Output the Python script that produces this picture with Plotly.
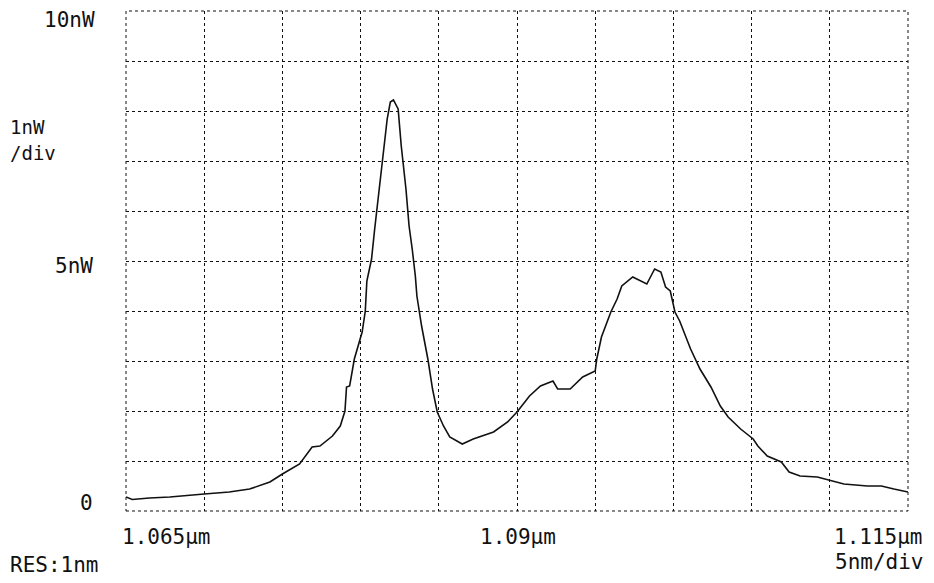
import plotly.graph_objects as go

# Wavelength (nm) and optical power (nW)
wavelength_nm = [
    1065.0, 1065.4, 1066.5, 1067.8, 1070.0, 1071.6, 1072.9, 1074.2, 1075.0, 1076.1,
    1076.9, 1077.4, 1078.2, 1078.7, 1079.0, 1079.1, 1079.3, 1079.6, 1080.1, 1080.3,
    1080.4, 1080.7, 1080.9, 1081.2, 1081.4, 1081.7, 1081.9, 1082.1, 1082.4, 1082.6,
    1082.9, 1083.1, 1083.3, 1083.5, 1083.6, 1083.9, 1084.3, 1084.6, 1084.9, 1085.3,
    1085.7, 1086.5, 1087.2, 1088.5, 1089.4, 1090.0, 1090.8, 1091.5, 1092.3, 1092.6,
    1093.4, 1094.2, 1095.0, 1095.1, 1095.4, 1096.0, 1096.4, 1096.7, 1097.4, 1098.3,
    1098.8, 1099.2, 1099.5, 1099.8, 1100.1, 1100.4, 1101.1, 1101.7, 1102.4, 1103.0,
    1103.5, 1104.3, 1105.1, 1105.4, 1106.0, 1106.9, 1107.4, 1108.1, 1109.2, 1110.2,
    1110.9, 1112.4, 1113.3, 1114.1, 1115.0,
]
power_nw = [
    0.28, 0.23, 0.26, 0.28, 0.34, 0.38, 0.44, 0.58, 0.74, 0.94,
    1.28, 1.30, 1.50, 1.70, 2.00, 2.48, 2.50, 3.04, 3.58, 4.00,
    4.60, 5.04, 5.64, 6.44, 6.98, 7.84, 8.18, 8.22, 8.04, 7.30,
    6.44, 5.70, 5.24, 4.70, 4.30, 3.70, 3.04, 2.44, 1.98, 1.70,
    1.48, 1.34, 1.44, 1.58, 1.78, 1.98, 2.30, 2.50, 2.60, 2.44,
    2.44, 2.68, 2.80, 3.04, 3.48, 3.98, 4.24, 4.50, 4.68, 4.54,
    4.84, 4.78, 4.48, 4.40, 3.98, 3.80, 3.24, 2.84, 2.48, 2.10,
    1.88, 1.64, 1.44, 1.30, 1.10, 0.98, 0.78, 0.70, 0.68, 0.60,
    0.54, 0.50, 0.50, 0.44, 0.38,
]

x_range = [1065, 1115]
y_range = [0, 10]

FONT = "DejaVu Sans Mono"
INK = "#111111"

fig = go.Figure()
fig.add_trace(go.Scatter(
    x=wavelength_nm, y=power_nw, mode="lines",
    line=dict(color=INK, width=1.6),
    showlegend=False, hoverinfo="skip",
))

axis_common = dict(
    showgrid=True, gridcolor=INK, griddash="dot", gridwidth=1,
    showticklabels=False, ticks="", zeroline=False, showline=False,
)
fig.update_xaxes(range=x_range, tick0=1065, dtick=5, **axis_common)
fig.update_yaxes(range=y_range, tick0=0, dtick=1, **axis_common)

# dotted frame around the plotting area
fig.add_shape(type="rect", xref="paper", yref="paper", x0=0, x1=1, y0=0, y1=1,
              line=dict(color=INK, width=1, dash="dot"), layer="below")

def ann(text, x, y, xanchor="center", yanchor="middle", size=21):
    fig.add_annotation(text=text, x=x, y=y, xref="paper", yref="paper",
                       xanchor=xanchor, yanchor=yanchor, showarrow=False,
                       font=dict(family=FONT, size=size, color=INK))

ann("10nW", -0.037, 0.982, xanchor="right")
ann("1nW", -0.151, 0.768, xanchor="left", size=19)
ann("/div", -0.151, 0.716, xanchor="left", size=19)
ann("5nW", -0.040, 0.49, xanchor="right")
ann("0", -0.040, 0.016, xanchor="right")
ann("1.065µm", -0.0077, -0.052, xanchor="left")
ann("1.09µm", 0.501, -0.052)
ann("1.115µm", 1.0217, -0.052, xanchor="right")
ann("5nm/div", 1.023, -0.102, xanchor="right")
ann("RES:1nm", -0.151, -0.108, xanchor="left")

fig.update_layout(
    width=926, height=575,
    margin=dict(l=118, r=26, t=3, b=72),
    paper_bgcolor="white", plot_bgcolor="white",
)

fig.write_html("out.html")
